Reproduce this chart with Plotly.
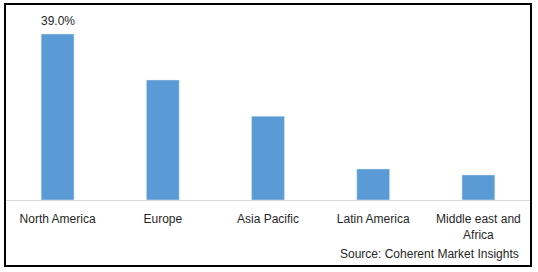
import plotly.graph_objects as go

categories = ["North America", "Europe", "Asia Pacific", "Latin America", "Middle east and<br>Africa"]
values = [39.0, 28.2, 19.7, 7.3, 5.9]
label_index = 0
label_str = "39.0%"
source_text = "Source: Coherent Market Insights"

W, H = 538, 272
ml, mr, mt, mb = 5, 7, 4, 72
ph = H - mt - mb

fig = go.Figure()
fig.add_trace(go.Bar(
    x=categories, y=values, marker_color="#5b9bd5", width=0.313,
))

fig.update_layout(
    width=W, height=H,
    margin=dict(l=ml, r=mr, t=mt, b=mb),
    paper_bgcolor="white", plot_bgcolor="white",
    showlegend=False,
    font=dict(family="Liberation Sans", size=12, color="#262626"),
    xaxis=dict(showline=True, linecolor="#d9d9d9", linewidth=1, ticks="",
               showgrid=False, tickfont=dict(size=12, color="#262626"),
               ticklabelstandoff=8, fixedrange=True),
    yaxis=dict(visible=False, range=[0, 46.05], showgrid=False, fixedrange=True),
)

fig.add_annotation(x=categories[label_index], y=values[label_index], text=label_str,
                   showarrow=False, yanchor="middle", yshift=13,
                   font=dict(family="Liberation Sans", size=12, color="#262626"))

bottom_paper = -(H - 6 - (H - mb)) / ph
fig.add_shape(type="rect", xref="paper", yref="paper", x0=0, x1=1, y0=bottom_paper, y1=1,
              line=dict(color="black", width=2), fillcolor="rgba(0,0,0,0)", layer="above")

fig.add_annotation(text=source_text, xref="paper", yref="paper",
                   x=(521 - ml) / (W - ml - mr), y=-(254 - (H - mb)) / ph,
                   xanchor="right", yanchor="middle", showarrow=False,
                   font=dict(family="Liberation Sans", size=12, color="#262626"))

fig.write_html("out.html")
